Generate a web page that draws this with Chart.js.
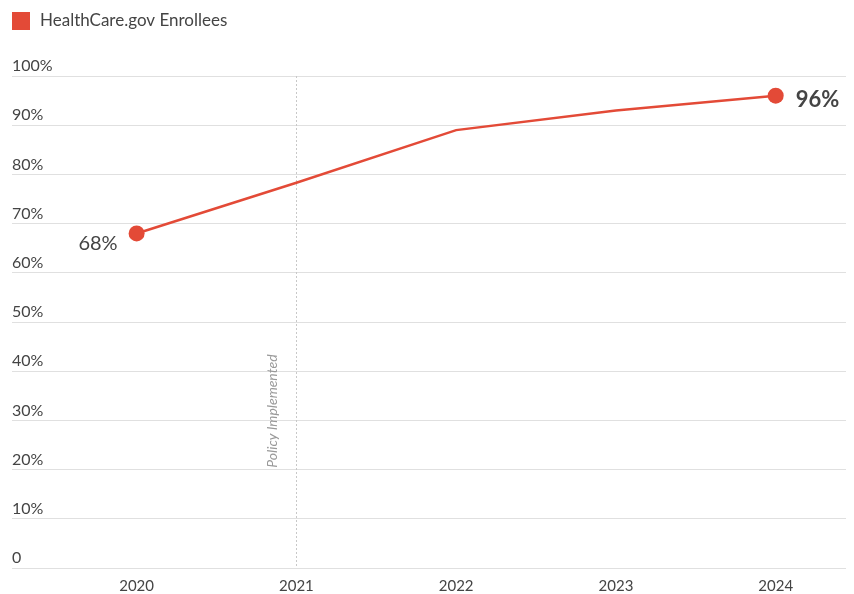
<!DOCTYPE html>
<html>
<head>
<meta charset="utf-8">
<script src="https://cdn.jsdelivr.net/npm/chart.js@4/dist/chart.umd.min.js"></script>
<style>
  html, body { margin: 0; padding: 0; background: #fff; }
  #wrap { width: 854px; height: 594px; }
</style>
</head>
<body>
<div id="wrap"><canvas id="myChart" width="854" height="594"></canvas></div>
<script>
var years = [2020, 2021, 2022, 2023, 2024];
var enrollees = [68, 78.3, 89, 93, 96];
var yTicks = [0, 10, 20, 30, 40, 50, 60, 70, 80, 90, 100];
var policyYear = 2021;
var policyText = "Policy Implemented";
var seriesName = "HealthCare.gov Enrollees";

var red = '#e34a37';
var font = 'Lato, "Open Sans", sans-serif';

// legend swatch, dashed marker line + its label, and the end labels
var annotations = {
    id: 'annotations',
    beforeDatasetsDraw: function (chart) {
        var c = chart.ctx, area = chart.chartArea;
        var x = chart.scales.x.getPixelForValue(policyYear);
        c.save();
        // legend
        c.fillStyle = red;
        c.fillRect(12, 12, 18, 18);
        c.fillStyle = '#444';
        c.font = '17px ' + font;
        c.textAlign = 'left';
        c.textBaseline = 'middle';
        c.fillText(seriesName, 40, 21);
        // policy line
        c.strokeStyle = '#c8c8c8';
        c.lineWidth = 1;
        c.setLineDash([2, 2]);
        c.beginPath();
        c.moveTo(Math.round(x) + 0.5, area.top);
        c.lineTo(Math.round(x) + 0.5, area.bottom);
        c.stroke();
        c.setLineDash([]);
        c.translate(x - 24, chart.scales.y.getPixelForValue(31.9));
        c.rotate(-Math.PI / 2);
        c.fillStyle = '#999';
        c.font = 'italic 14px ' + font;
        c.textAlign = 'center';
        c.fillText(policyText, 0, 0);
        c.restore();
    },
    afterDatasetsDraw: function (chart) {
        var c = chart.ctx;
        var pts = chart.getDatasetMeta(0).data;
        var first = pts[0], last = pts[pts.length - 1];
        c.save();
        c.fillStyle = '#444';
        c.textBaseline = 'middle';
        c.font = '20px ' + font;
        c.textAlign = 'right';
        c.fillText(enrollees[0] + '%', first.x - 19, first.y + 10);
        c.font = 'bold 22px ' + font;
        c.textAlign = 'left';
        c.fillText(enrollees[enrollees.length - 1] + '%', last.x + 20, last.y + 4);
        c.restore();
    }
};

var ctx = document.getElementById('myChart').getContext('2d');
var myChart = new Chart(ctx, {
    type: 'line',
    data: {
        datasets: [{
            label: seriesName,
            data: years.map(function (y, i) { return { x: y, y: enrollees[i] }; }),
            borderColor: red,
            backgroundColor: red,
            borderWidth: 2.5,
            pointRadius: [8, 0, 0, 0, 8],
            pointBorderWidth: 0,
            pointBackgroundColor: red,
            tension: 0
        }]
    },
    options: {
        responsive: false,
        animation: false,
        layout: { padding: { left: 12, right: 6, top: 76, bottom: 0 } },
        plugins: {
            legend: { display: false },
            tooltip: { enabled: false }
        },
        scales: {
            x: {
                type: 'linear',
                min: 2019.22,
                max: 2024.44,
                afterBuildTicks: function (axis) {
                    axis.ticks = years.map(function (v) { return { value: v }; });
                },
                afterFit: function (axis) {
                    axis.height = 26;
                },
                grid: { display: false, drawTicks: false, tickLength: 0 },
                border: { display: false },
                ticks: {
                    color: '#444',
                    padding: 9,
                    font: { family: font, size: 15 },
                    callback: function (v) { return String(v); }
                }
            },
            y: {
                min: 0,
                max: 100,
                afterBuildTicks: function (axis) {
                    axis.ticks = yTicks.map(function (v) { return { value: v }; });
                },
                afterFit: function (axis) {
                    axis.paddingTop = 0;
                    axis.paddingBottom = 0;
                },
                grid: { color: '#e0e0e0', drawTicks: false, lineWidth: 1 },
                border: { display: false },
                ticks: {
                    mirror: true,
                    padding: 0,
                    labelOffset: -10,
                    color: '#444',
                    font: { family: font, size: 16 },
                    callback: function (v) { return v === 0 ? '0' : v + '%'; }
                }
            }
        }
    },
    plugins: [annotations]
});
</script>
</body>
</html>
